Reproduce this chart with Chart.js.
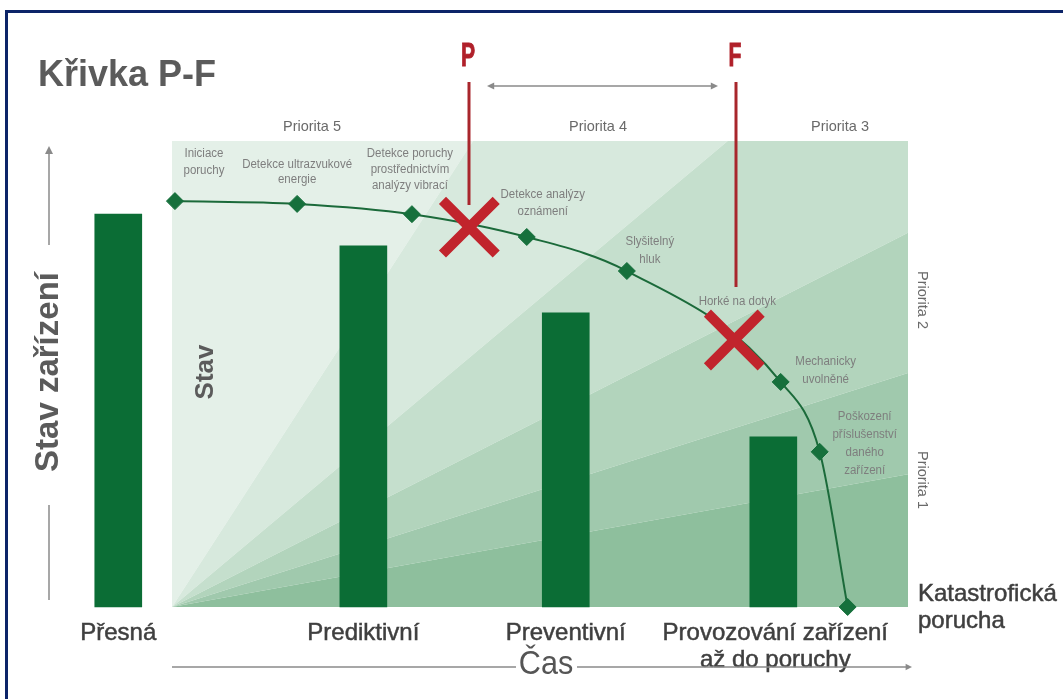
<!DOCTYPE html>
<html>
<head>
<meta charset="utf-8">
<title>Křivka P-F</title>
<script src="https://cdn.jsdelivr.net/npm/chart.js@4.4.1/dist/chart.umd.min.js"></script>
<style>
  html, body { margin: 0; padding: 0; background: #fff; overflow: hidden; }
  #wrap { position: relative; width: 1063px; height: 699px; }
  #frame { position: absolute; left: 5px; top: 10px; width: 1080px; height: 720px; border: 3px solid #0c2468; }
  canvas { position: absolute; left: 0; top: 0; }
</style>
</head>
<body>
<div id="wrap"><div id="frame"></div><canvas id="pf" width="1063" height="699"></canvas></div>
<script>
// time: 0 = start of the fan, 100 = its right edge; condition: 0 = failure, 100 = top
const curveLabels = [
  ['Iniciace', 'poruchy'],
  ['Detekce ultrazvukové', 'energie'],
  ['Detekce poruchy', 'prostřednictvím', 'analýzy vibrací'],
  ['Detekce analýzy', 'oznámení'],
  ['Slyšitelný', 'hluk'],
  ['Mechanicky', 'uvolněné'],
  ['Poškození', 'příslušenství', 'daného', 'zařízení'],
  ['Katastrofická', 'porucha']
];
const curveTime = [0.4, 17.0, 32.6, 48.2, 61.8, 82.7, 88.0, 91.8];
const curveCond = [87.1, 86.5, 84.3, 79.4, 72.1, 48.3, 33.3, 0];

const strategies = [['Přesná'], ['Prediktivní'], ['Preventivní'], ['Provozování zařízení', 'až do poruchy']];
const barTime = [-7.3, 26.0, 53.5, 81.7];
const barCond = [84.3, 77.5, 63.1, 36.5];

const pfNames = ['P', 'F'];
const pfLabels = [null, 'Horké na dotyk'];
const pfTime = [40.4, 76.4];
const pfCond = [81.5, 57.3];

const priorities = ['Priorita 5', 'Priorita 4', 'Priorita 3', 'Priorita 2', 'Priorita 1'];

// fan boundaries, all starting at (0, 0) and ending on the top or right edge
const rayTime = [0, 40.9, 75.5, 100, 100, 100, 100];
const rayCond = [100, 100, 100, 80.3, 50.2, 28.5, 0];

// ---- layout & style ----
const W = 1063, H = 699;
const PLOT = { left: 172, right: 908, top: 141, bottom: 607 };
const bandColors = ['#e4f0e8', '#d7e9dd', '#c5dfcd', '#b2d4bc', '#a0c9ad', '#8ebf9d'];
const darkGreen = '#0b6d35';
const red = '#c1242c';
const gray = '#8a8a8a';
const sans = '"Liberation Sans", Arial, sans-serif';

// label offsets from their point (px), first line centre
const labelOffsets = [[29, -48], [0, -39], [-2, -61], [16, -42], [23, -29], [45, -20], [45, -35]];
const labelLineGap = [17, 15, 16, 17, 18, 18, 18];

const spanX = PLOT.right - PLOT.left, spanY = PLOT.bottom - PLOT.top;
const xMin = -PLOT.left / spanX * 100, xMax = (W - PLOT.left) / spanX * 100;
const yMin = -(H - PLOT.bottom) / spanY * 100, yMax = PLOT.bottom / spanY * 100;

function drawText(ctx, text, x, y, font, color, align, rot, sx, stroke) {
  ctx.save();
  ctx.translate(x, y);
  if (rot) ctx.rotate(rot);
  if (sx) ctx.scale(sx, 1);
  ctx.font = font;
  ctx.fillStyle = color;
  ctx.textAlign = align || 'center';
  ctx.textBaseline = 'middle';
  ctx.fillText(text, 0, 0);
  if (stroke) {
    ctx.strokeStyle = color;
    ctx.lineWidth = stroke;
    ctx.strokeText(text, 0, 0);
  }
  ctx.restore();
}

function arrowHead(ctx, x, y, dir, size) {
  ctx.save();
  ctx.translate(x, y);
  ctx.rotate(dir);
  ctx.beginPath();
  ctx.moveTo(0, 0);
  ctx.lineTo(-size * 1.6, -size * 0.8);
  ctx.lineTo(-size * 1.6, size * 0.8);
  ctx.closePath();
  ctx.fill();
  ctx.restore();
}

const pfDecor = {
  id: 'pfDecor',
  beforeDatasetsDraw(chart) {
    const ctx = chart.ctx, xs = chart.scales.x, ys = chart.scales.y;
    const ox = xs.getPixelForValue(0), oy = ys.getPixelForValue(0);
    // fan bands
    for (let i = 0; i < rayTime.length - 1; i++) {
      ctx.beginPath();
      ctx.moveTo(ox, oy);
      ctx.lineTo(xs.getPixelForValue(rayTime[i]), ys.getPixelForValue(rayCond[i]));
      if (rayCond[i] === 100 && rayTime[i + 1] === 100 && rayCond[i + 1] < 100) {
        ctx.lineTo(xs.getPixelForValue(100), ys.getPixelForValue(100));
      }
      ctx.lineTo(xs.getPixelForValue(rayTime[i + 1]), ys.getPixelForValue(rayCond[i + 1]));
      ctx.closePath();
      ctx.fillStyle = bandColors[i];
      ctx.fill();
    }
    // P and F lines
    ctx.save();
    ctx.strokeStyle = '#a8262c';
    ctx.lineWidth = 3;
    const lineEnds = [205, 287];
    pfTime.forEach((t, i) => {
      const x = Math.round(xs.getPixelForValue(t)) + (i === 1 ? 2 : 0);
      ctx.beginPath();
      ctx.moveTo(x, 82);
      ctx.lineTo(x, lineEnds[i]);
      ctx.stroke();
      drawText(ctx, pfNames[i], x - 1, 57, 'bold 34px ' + sans, '#b0202a', 'center', 0, 0.62, 1);
    });
    ctx.restore();
  },
  afterDraw(chart) {
    const ctx = chart.ctx, xs = chart.scales.x, ys = chart.scales.y;
    const small = '12.5px ' + sans, smallColor = '#7e7e7e';
    const big = '24px ' + sans, bigColor = '#3f3f3f';
    const prio = '14.5px ' + sans, prioColor = '#6a6a6a';

    // title
    drawText(ctx, 'Křivka P-F', 38, 76, 'bold 36px ' + sans, '#5b5b5b', 'left');

    // priorities
    drawText(ctx, priorities[0], 312, 127, prio, prioColor);
    drawText(ctx, priorities[1], 598, 127, prio, prioColor);
    drawText(ctx, priorities[2], 840, 127, prio, prioColor);
    drawText(ctx, priorities[3], 922, 300, prio, prioColor, 'center', Math.PI / 2);
    drawText(ctx, priorities[4], 922, 480, prio, prioColor, 'center', Math.PI / 2);

    // point labels
    for (let i = 0; i < labelOffsets.length; i++) {
      const x = xs.getPixelForValue(curveTime[i]) + labelOffsets[i][0];
      const y = ys.getPixelForValue(curveCond[i]) + labelOffsets[i][1];
      curveLabels[i].forEach((line, k) => drawText(ctx, line, x, y + k * labelLineGap[i], small, smallColor, 'center', 0, 0.92));
    }
    const fx = xs.getPixelForValue(pfTime[1]), fy = ys.getPixelForValue(pfCond[1]);
    drawText(ctx, pfLabels[1], fx + 3, fy - 38, small, smallColor, 'center', 0, 0.92);

    // catastrophic failure label
    const last = curveLabels[curveLabels.length - 1];
    drawText(ctx, last[0], 918, 594, big, bigColor, 'left', 0, 0, 0.5);
    drawText(ctx, last[1], 918, 621, big, bigColor, 'left', 0, 0, 0.5);

    // strategy labels under the bars
    strategies.forEach((lines, i) => {
      const x = xs.getPixelForValue(barTime[i]) + (i === 3 ? 2 : 0);
      lines.forEach((line, k) => drawText(ctx, line, x, 633 + k * 27, big, bigColor, 'center', 0, 0, 0.5));
    });

    // rotated axis texts
    drawText(ctx, 'Stav zařízení', 49, 372, 'bold 33px ' + sans, '#5b5b5b', 'center', -Math.PI / 2);
    drawText(ctx, 'Stav', 206, 372, 'bold 26px ' + sans, '#5b5b5b', 'center', -Math.PI / 2);
    drawText(ctx, 'Čas', 546, 665, '34px ' + sans, '#555555', 'center', 0, 0.9);

    // arrows
    ctx.save();
    ctx.strokeStyle = gray;
    ctx.fillStyle = gray;
    ctx.lineWidth = 1.5;
    ctx.beginPath();
    ctx.moveTo(49, 245); ctx.lineTo(49, 154);
    ctx.moveTo(49, 505); ctx.lineTo(49, 600);
    ctx.moveTo(172, 667); ctx.lineTo(516, 667);
    ctx.moveTo(577, 667); ctx.lineTo(906, 667);
    ctx.moveTo(493, 86); ctx.lineTo(712, 86);
    ctx.stroke();
    arrowHead(ctx, 49, 146, -Math.PI / 2, 5);
    arrowHead(ctx, 912, 667, 0, 4);
    arrowHead(ctx, 487, 86, Math.PI, 4.5);
    arrowHead(ctx, 718, 86, 0, 4.5);
    ctx.restore();
  }
};

new Chart(document.getElementById('pf'), {
  type: 'scatter',
  data: {
    datasets: [
      {
        type: 'bar',
        label: 'Strategie údržby',
        data: barTime.map((t, i) => ({ x: t, y: barCond[i] })),
        backgroundColor: darkGreen,
        borderWidth: 0,
        barThickness: 47,
        order: 3
      },
      {
        type: 'line',
        label: 'Křivka P-F',
        data: curveTime.map((t, i) => ({ x: t, y: curveCond[i] })),
        borderColor: '#1b6a3a',
        borderWidth: 2,
        cubicInterpolationMode: 'monotone',
        pointStyle: 'rectRot',
        pointRadius: 8.5,
        pointBackgroundColor: '#16703c',
        pointBorderColor: '#16703c',
        pointBorderWidth: 1,
        order: 2
      },
      {
        label: 'P / F',
        data: pfTime.map((t, i) => ({ x: t, y: pfCond[i] })),
        pointStyle: 'crossRot',
        pointRadius: 38,
        pointBorderColor: red,
        pointBorderWidth: 10,
        order: 1
      }
    ]
  },
  options: {
    responsive: false,
    animation: false,
    layout: { padding: 0, autoPadding: false },
    plugins: { legend: { display: false }, tooltip: { enabled: false } },
    scales: {
      x: { type: 'linear', min: xMin, max: xMax, offset: false, display: false },
      y: { type: 'linear', min: yMin, max: yMax, display: false }
    }
  },
  plugins: [pfDecor]
});
</script>
</body>
</html>
